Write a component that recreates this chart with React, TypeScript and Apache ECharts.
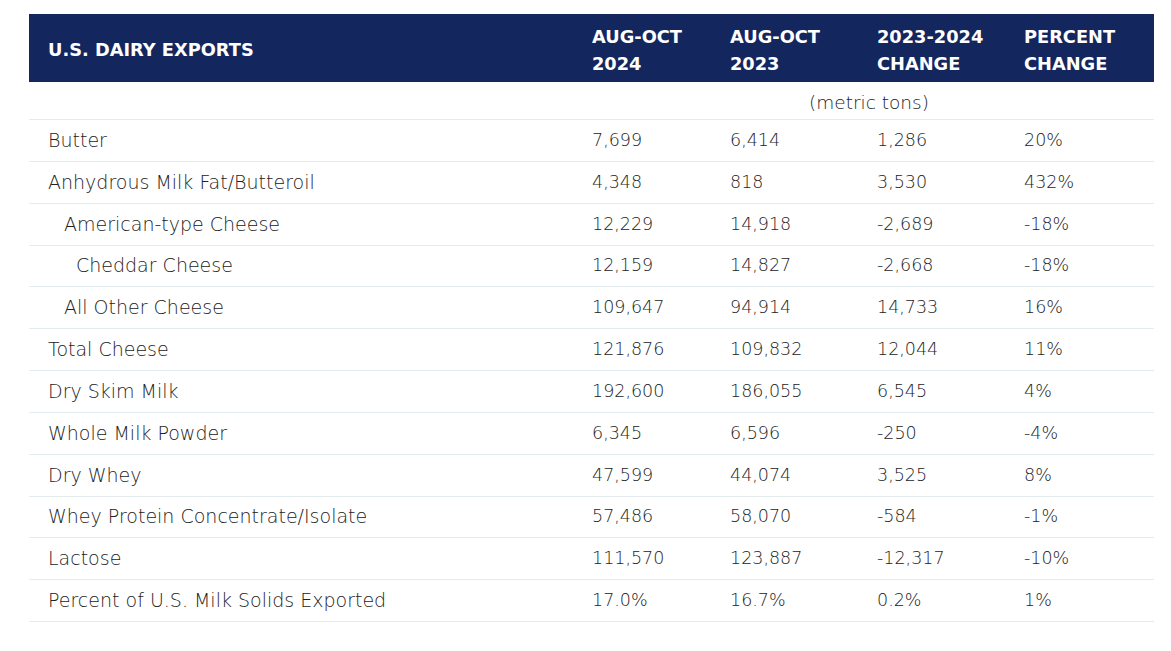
import React, { useEffect, useRef } from "react";
import * as echarts from "echarts";

const title = "U.S. DAIRY EXPORTS";
const columnHeaders = [
  ["AUG-OCT", "2024"],
  ["AUG-OCT", "2023"],
  ["2023-2024", "CHANGE"],
  ["PERCENT", "CHANGE"],
];
const unitNote = "(metric tons)";

const products = [
  "Butter",
  "Anhydrous Milk Fat/Butteroil",
  "American-type Cheese",
  "Cheddar Cheese",
  "All Other Cheese",
  "Total Cheese",
  "Dry Skim Milk",
  "Whole Milk Powder",
  "Dry Whey",
  "Whey Protein Concentrate/Isolate",
  "Lactose",
  "Percent of U.S. Milk Solids Exported",
];
const indentLevel = [0, 0, 1, 2, 1, 0, 0, 0, 0, 0, 0, 0];
const augOct2024 = ["7,699", "4,348", "12,229", "12,159", "109,647", "121,876", "192,600", "6,345", "47,599", "57,486", "111,570", "17.0%"];
const augOct2023 = ["6,414", "818", "14,918", "14,827", "94,914", "109,832", "186,055", "6,596", "44,074", "58,070", "123,887", "16.7%"];
const change = ["1,286", "3,530", "-2,689", "-2,668", "14,733", "12,044", "6,545", "-250", "3,525", "-584", "-12,317", "0.2%"];
const percentChange = ["20%", "432%", "-18%", "-18%", "16%", "11%", "4%", "-4%", "8%", "-1%", "-10%", "1%"];

const W = 1171;
const H = 651;
const LEFT = 29;
const RIGHT = 1154;
const LABEL_X = 48;
const INDENT = [0, 16, 28];
const COL_X = [592, 730, 877, 1024];
const NAVY = "#14265e";
const TEXT = "#222";
const LINE = "#e4ebee";
const FONT = "'DejaVu Sans', sans-serif";
const LABEL_FONT = `200 19px ${FONT}`;
const NUM_FONT = `200 17.5px ${FONT}`;
const HEAD_FONT = `bold 17.8px ${FONT}`;

export default function App() {
  const ref = useRef<HTMLDivElement>(null);
  useEffect(() => {
    if (!ref.current) return;
    const chart = echarts.init(ref.current, undefined, { renderer: "svg" });
    const headerTexts: any[] = [
      {
        type: "text",
        x: LABEL_X,
        y: 49,
        style: { text: title, fill: "#fff", font: HEAD_FONT, textVerticalAlign: "middle" },
      },
    ];
    columnHeaders.forEach((h, i) => {
      headerTexts.push({
        type: "text",
        x: COL_X[i],
        y: 36,
        style: { text: h[0], fill: "#fff", font: HEAD_FONT, textVerticalAlign: "middle" },
      });
      headerTexts.push({
        type: "text",
        x: COL_X[i],
        y: 63,
        style: { text: h[1], fill: "#fff", font: HEAD_FONT, textVerticalAlign: "middle" },
      });
    });
    const option: any = {
      animation: false,
      backgroundColor: "#fff",
      grid: { left: 0, right: 0, top: 119, bottom: 30 },
      xAxis: { type: "value", min: 0, max: W, show: false },
      yAxis: { type: "category", data: products, inverse: true, show: false },
      graphic: [
        {
          type: "rect",
          shape: { x: LEFT, y: 14, width: RIGHT - LEFT, height: 68 },
          style: { fill: NAVY },
        },
        ...headerTexts,
        {
          type: "text",
          x: 869,
          y: 102,
          style: { text: unitNote, fill: TEXT, font: `200 18.5px ${FONT}`, textAlign: "center", textVerticalAlign: "middle" },
        },
        {
          type: "line",
          shape: { x1: LEFT, y1: 119.5, x2: RIGHT, y2: 119.5 },
          style: { stroke: LINE, lineWidth: 1 },
        },
      ],
      series: [
        {
          type: "custom",
          data: products.map((_, i) => [0, i]),
          renderItem: (params: any, api: any) => {
            const idx = api.value(1);
            const c = api.coord([0, idx]);
            const band = api.size([0, 1])[1];
            const yc = c[1];
            const yb = Math.round(yc + band / 2) + 0.5;
            const cells = [augOct2024[idx], augOct2023[idx], change[idx], percentChange[idx]];
            const children: any[] = [
              {
                type: "text",
                x: api.coord([LABEL_X + INDENT[indentLevel[idx]], idx])[0],
                y: yc,
                style: { text: products[idx], fill: TEXT, font: LABEL_FONT, textVerticalAlign: "middle" },
              },
              ...cells.map((t, j) => ({
                type: "text",
                x: api.coord([COL_X[j], idx])[0],
                y: yc,
                style: { text: t, fill: TEXT, font: NUM_FONT, textVerticalAlign: "middle" },
              })),
              {
                type: "line",
                shape: { x1: api.coord([LEFT, idx])[0], y1: yb, x2: api.coord([RIGHT, idx])[0], y2: yb },
                style: { stroke: LINE, lineWidth: 1 },
              },
            ];
            return { type: "group", children };
          },
        },
      ],
    };
    chart.setOption(option);
    return () => chart.dispose();
  }, []);
  return (
    <div
      ref={ref}
      style={{ position: "fixed", left: 0, top: 0, width: W, height: H, background: "#fff" }}
    />
  );
}
